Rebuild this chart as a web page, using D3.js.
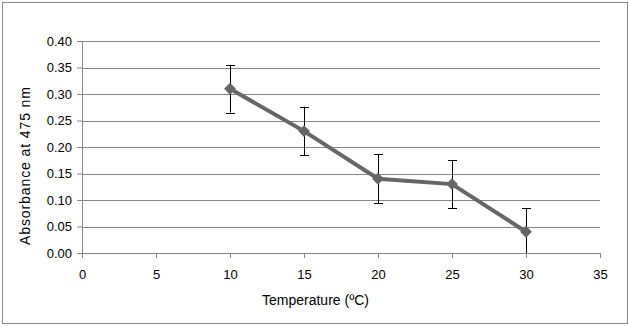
<!DOCTYPE html>
<html lang="en">
<head>
<meta charset="utf-8">
<script src="https://cdn.jsdelivr.net/npm/d3@7"></script>
<style>
  body { margin: 0; background: #fff; }
  text { font-family: "Liberation Sans", Arial, sans-serif; font-size: 13px; fill: #000; }
</style>
</head>
<body>
<script>
// data
var temps = [10, 15, 20, 25, 30];
var absorb = [0.31, 0.23, 0.14, 0.13, 0.04];
var errs = [0.045, 0.046, 0.046, 0.045, 0.045];
var xTicks = [0, 5, 10, 15, 20, 25, 30, 35];
var yTicks = [0, 0.05, 0.10, 0.15, 0.20, 0.25, 0.30, 0.35, 0.40];

var W = 629, H = 327;
var margin = {left: 82, right: 29, top: 41, bottom: 74};
var w = W - margin.left - margin.right, h = H - margin.top - margin.bottom;

var svg = d3.select("body").append("svg")
  .attr("width", W).attr("height", H);

// outer border
svg.append("rect")
  .attr("x", 2.5).attr("y", 2.5)
  .attr("width", 625).attr("height", 321)
  .attr("fill", "none").attr("stroke", "#888");

var g = svg.append("g")
  .attr("transform", "translate(" + margin.left + "," + margin.top + ")");

var x = d3.scaleLinear().domain([0, 35]).range([0, w]);
var y = d3.scaleLinear().domain([0, 0.40]).range([h, 0]);

// gridlines
g.selectAll(".grid").data(yTicks.slice(1)).enter().append("line")
  .attr("x1", 0).attr("x2", w)
  .attr("y1", function(d) { return Math.round(y(d)) + 0.5; })
  .attr("y2", function(d) { return Math.round(y(d)) + 0.5; })
  .attr("stroke", "#868686");

// y axis
var yAxis = g.append("g")
  .call(d3.axisLeft(y).tickValues(yTicks).tickFormat(d3.format(".2f")).tickSize(5).tickPadding(5));
yAxis.select(".domain").attr("stroke", "#868686").attr("d", "M0.5," + h + "V0");
yAxis.selectAll(".tick line").attr("stroke", "#868686");

// x axis
var xAxis = g.append("g")
  .attr("transform", "translate(0," + h + ")")
  .call(d3.axisBottom(x).tickValues(xTicks).tickSize(5).tickPadding(12));
xAxis.select(".domain").attr("stroke", "#868686").attr("d", "M0,0.5H" + w);
xAxis.selectAll(".tick line").attr("stroke", "#868686");

g.selectAll(".tick text").style("font-family", "'Liberation Sans', Arial, sans-serif").style("font-size", "13px").attr("fill", "#000");

// error bars
var eb = g.selectAll(".err").data(temps).enter().append("g");
eb.append("line")
  .attr("x1", function(d) { return Math.round(x(d)) + 0.5; })
  .attr("x2", function(d) { return Math.round(x(d)) + 0.5; })
  .attr("y1", function(d, i) { return y(Math.max(0, absorb[i] - errs[i])); })
  .attr("y2", function(d, i) { return y(absorb[i] + errs[i]); })
  .attr("stroke", "#000");
eb.append("line")
  .attr("x1", function(d) { return x(d) - 4; })
  .attr("x2", function(d) { return x(d) + 5; })
  .attr("y1", function(d, i) { return Math.round(y(absorb[i] + errs[i])) + 0.5; })
  .attr("y2", function(d, i) { return Math.round(y(absorb[i] + errs[i])) + 0.5; })
  .attr("stroke", "#000");
eb.filter(function(d, i) { return absorb[i] - errs[i] > 0; }).append("line")
  .attr("x1", function(d) { return x(d) - 4; })
  .attr("x2", function(d) { return x(d) + 5; })
  .attr("y1", function(d, i) { return Math.round(y(absorb[i] - errs[i])) + 0.5; })
  .attr("y2", function(d, i) { return Math.round(y(absorb[i] - errs[i])) + 0.5; })
  .attr("stroke", "#000");

// line
var line = d3.line()
  .x(function(d, i) { return x(temps[i]); })
  .y(function(d) { return y(d); });
g.append("path").datum(absorb)
  .attr("d", line)
  .attr("fill", "none")
  .attr("stroke", "#666")
  .attr("stroke-width", 4);

// diamond markers
g.selectAll(".pt").data(absorb).enter().append("path")
  .attr("d", d3.symbol().type(d3.symbolDiamond2).size(90))
  .attr("transform", function(d, i) { return "translate(" + x(temps[i]) + "," + y(d) + ")"; })
  .attr("fill", "#666");

// axis titles
svg.append("text")
  .attr("x", 262).attr("y", 305)
  .style("font-size", "14px")
  .text("Temperature (ºC)");
svg.append("text")
  .attr("transform", "translate(30,245) rotate(-90)")
  .style("font-size", "14px")
  .attr("textLength", 158)
  .attr("lengthAdjust", "spacing")
  .text("Absorbance at 475 nm");
</script>
</body>
</html>
